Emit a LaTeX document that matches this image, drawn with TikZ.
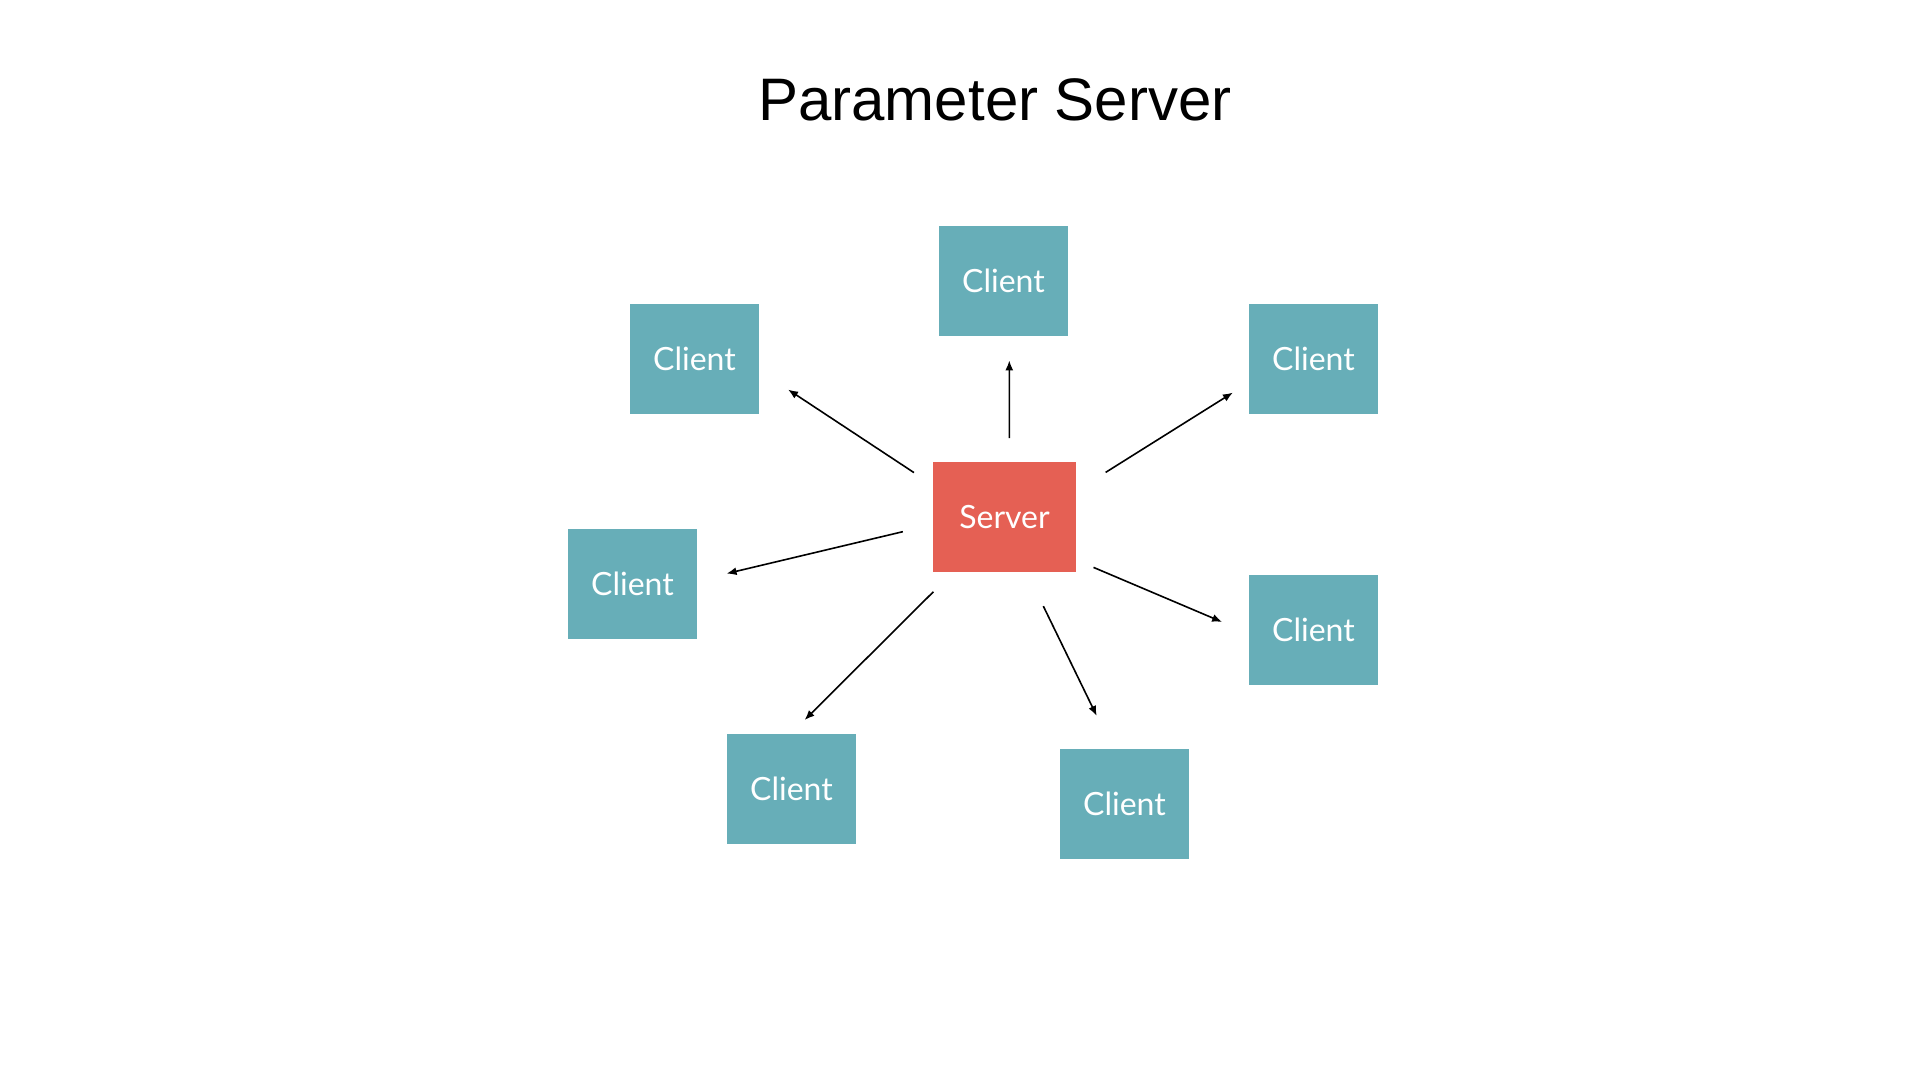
\documentclass[tikz,border=0pt]{standalone}
\usepackage{fontspec}
\setmainfont{Liberation Sans}
\newfontfamily\boxfont{Lato}
\usetikzlibrary{arrows.meta}
\definecolor{clientteal}{HTML}{67AEB8}
\definecolor{serverred}{HTML}{E56054}
\tikzset{
  cl/.style={fill=clientteal, minimum width=64.5pt, minimum height=55pt, inner sep=0pt, outer sep=0pt, text=white, font=\boxfont\fontsize{16}{16}\selectfont},
  sv/.style={cl, fill=serverred, minimum width=71.5pt},
  ttl/.style={font=\fontsize{30}{30}\selectfont, anchor=base},
  fl/.style={-{Latex[length=5pt,width=4pt]}, line width=0.8pt},
}
\begin{document}
\begin{tikzpicture}[x=0.5pt, y=-0.5pt]
\useasboundingbox (0,0) rectangle (1920,1080);
\node[ttl] (title) at (995,121) {Parameter Server};
\node[sv] (server) at (1004.5,517) {Server};
\node[cl] (cn) at (1003.5,281) {Client};
\node[cl] (cnw) at (694.5,359) {Client};
\node[cl] (cne) at (1313.5,359) {Client};
\node[cl] (cw) at (632.5,584) {Client};
\node[cl] (ce) at (1313.5,630) {Client};
\node[cl] (csw) at (791.5,789) {Client};
\node[cl] (cse) at (1124.5,804) {Client};
\draw[fl, shorten <=12pt, shorten >=12.2pt] (server.85) -- (cn.-84);
\draw[fl, shorten <=11.4pt, shorten >=17.4pt] (server.156) -- (cnw.-10);
\draw[fl, shorten <=17.5pt, shorten >=9.5pt] (server.20) -- (cne.200);
\draw[fl, shorten <=15.5pt, shorten >=15.2pt] (server.186) -- (cw.3);
\draw[fl, shorten <=9.5pt, shorten >=14.6pt] (server.-31) -- (ce.183);
\draw[fl, shorten <=14pt, shorten >=9.9pt] (server.227) -- (csw.91);
\draw[fl, shorten <=19pt, shorten >=18.4pt] (server.-68) -- (cse.102);
\end{tikzpicture}
\end{document}
